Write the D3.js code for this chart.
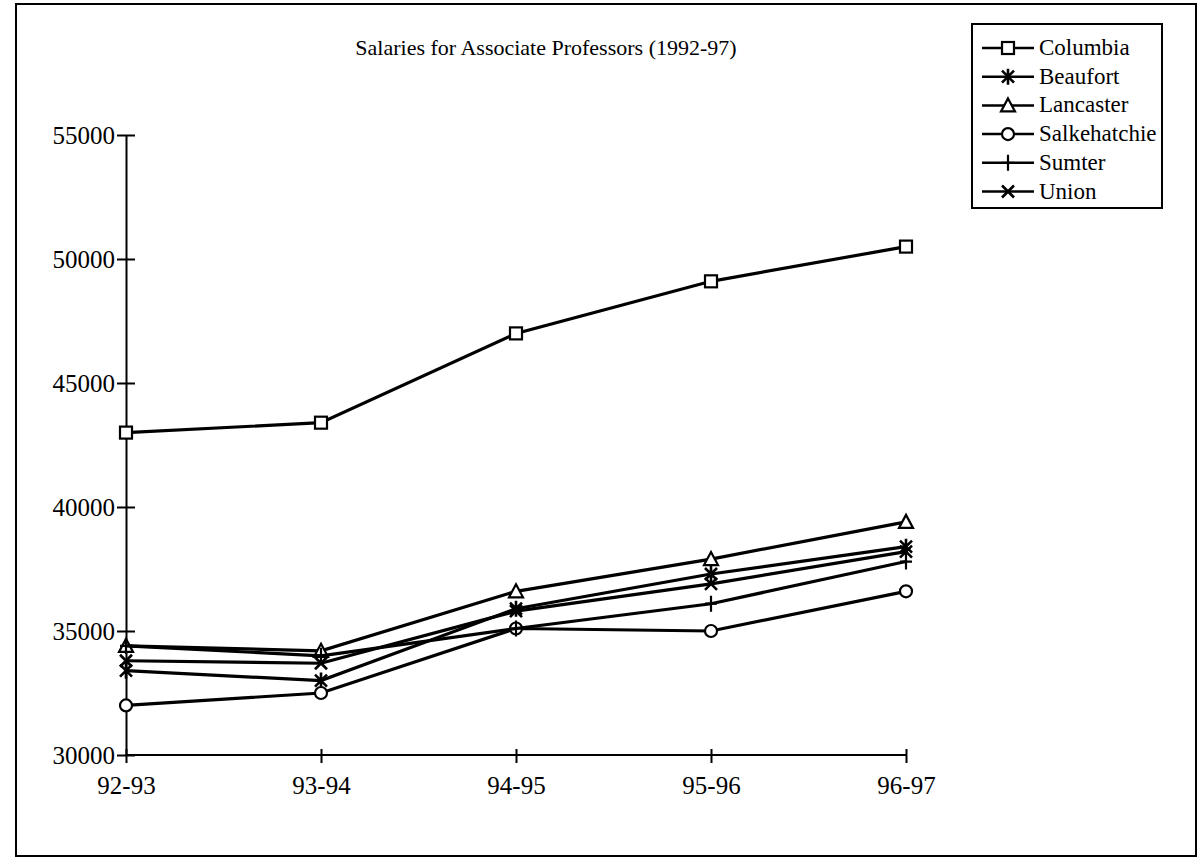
<!DOCTYPE html>
<html lang='en'>
<head>
	<meta charset='utf-8'>
	<script src='https://d3js.org/d3.v7.min.js'></script>
	<style>
		body { margin: 0; background: #fff; }
		svg text { font-family: 'Liberation Serif', 'Times New Roman', Times, 'DejaVu Serif', serif; fill: #000; }
	</style>
</head>
<body>
	<svg id='chart' width='1202' height='863'></svg>
	<script>
		// data
		var years = ['92-93', '93-94', '94-95', '95-96', '96-97'];
		var columbia = [43000, 43400, 47000, 49100, 50500];
		var beaufort = [33400, 33000, 35900, 37300, 38400];
		var lancaster = [34400, 34200, 36600, 37900, 39400];
		var salkehatchie = [32000, 32500, 35100, 35000, 36600];
		var sumter = [34400, 34000, 35100, 36100, 37800];
		var union = [33800, 33700, 35800, 36900, 38200];
		var yTicks = [30000, 35000, 40000, 45000, 50000, 55000];

		var series = [
			{ name: 'Columbia', values: columbia, marker: 'square' },
			{ name: 'Beaufort', values: beaufort, marker: 'asterisk' },
			{ name: 'Lancaster', values: lancaster, marker: 'triangle' },
			{ name: 'Salkehatchie', values: salkehatchie, marker: 'circle' },
			{ name: 'Sumter', values: sumter, marker: 'plus' },
			{ name: 'Union', values: union, marker: 'cross' }
		];

		var serif = "'Liberation Serif', 'Times New Roman', Times, 'DejaVu Serif', serif";
		var svg = d3.select('#chart');

		// outer frame
		svg.append('rect')
			.attr('x', 16).attr('y', 4)
			.attr('width', 1180).attr('height', 852)
			.attr('fill', 'none')
			.attr('stroke', '#000')
			.attr('stroke-width', 2);

		var x = d3.scalePoint()
			.domain(years)
			.range([126, 906]);

		var y = d3.scaleLinear()
			.domain([30000, 55000])
			.range([755, 135]);

		// y axis: ticks cross the axis line
		var yAxis = d3.axisLeft(y)
			.tickValues(yTicks)
			.tickFormat(d3.format('d'))
			.tickSize(9)
			.tickSizeOuter(0);

		var gy = svg.append('g')
			.attr('transform', 'translate(' + x(years[0]) + ',0)')
			.attr('font-family', serif)
			.call(yAxis);
		gy.select('.domain').attr('stroke-width', 2);
		gy.selectAll('.tick line').attr('x2', 9).attr('x1', -9).attr('stroke-width', 2);
		gy.selectAll('.tick text')
			.attr('x', -11)
			.attr('font-size', 25);

		// x axis
		var xAxis = d3.axisBottom(x)
			.tickSize(8)
			.tickSizeOuter(0)
			.tickPadding(13);

		var gx = svg.append('g')
			.attr('transform', 'translate(0,' + y(30000) + ')')
			.attr('font-family', serif)
			.call(xAxis);
		gx.select('.domain').attr('stroke-width', 2).attr('d', 'M' + x(years[0]) + ',0H' + x(years[4]));
		gx.selectAll('.tick line').attr('y1', -6).attr('y2', 8).attr('stroke-width', 2);
		gx.selectAll('.tick text')
			.attr('font-size', 25);

		// title
		svg.append('text')
			.attr('x', 546).attr('y', 55)
			.attr('text-anchor', 'middle')
			.attr('font-family', serif)
			.attr('font-size', 22)
			.text('Salaries for Associate Professors (1992-97)');

		function drawMarker(g, type, cx, cy) {
			var s = 6;
			if (type == 'square') {
				g.append('rect').attr('x', cx - s).attr('y', cy - s)
					.attr('width', 2 * s).attr('height', 2 * s)
					.attr('fill', '#fff').attr('stroke', '#000').attr('stroke-width', 2.2);
			} else if (type == 'circle') {
				g.append('circle').attr('cx', cx).attr('cy', cy).attr('r', s)
					.attr('fill', '#fff').attr('stroke', '#000').attr('stroke-width', 2.2);
			} else if (type == 'triangle') {
				g.append('path')
					.attr('d', 'M' + cx + ',' + (cy - 7) + 'L' + (cx + 7) + ',' + (cy + 6) + 'L' + (cx - 7) + ',' + (cy + 6) + 'Z')
					.attr('fill', '#fff').attr('stroke', '#000').attr('stroke-width', 2.2);
			} else if (type == 'plus') {
				g.append('path')
					.attr('d', 'M' + cx + ',' + (cy - 8) + 'V' + (cy + 8) + 'M' + (cx - 6) + ',' + cy + 'H' + (cx + 6))
					.attr('stroke', '#000').attr('stroke-width', 2.2);
			} else if (type == 'cross') {
				g.append('path')
					.attr('d', 'M' + (cx - 6) + ',' + (cy - 6) + 'L' + (cx + 6) + ',' + (cy + 6) + 'M' + (cx + 6) + ',' + (cy - 6) + 'L' + (cx - 6) + ',' + (cy + 6))
					.attr('stroke', '#000').attr('stroke-width', 2.6);
			} else if (type == 'asterisk') {
				g.append('path')
					.attr('d', 'M' + (cx - 6) + ',' + (cy - 6) + 'L' + (cx + 6) + ',' + (cy + 6) + 'M' + (cx + 6) + ',' + (cy - 6) + 'L' + (cx - 6) + ',' + (cy + 6) +
						'M' + cx + ',' + (cy - 8) + 'V' + (cy + 8))
					.attr('stroke', '#000').attr('stroke-width', 2.6);
			}
		}

		var line = d3.line()
			.x(function(d, i) { return x(years[i]); })
			.y(function(d) { return y(d); });

		series.forEach(function(s) {
			var g = svg.append('g');
			g.append('path')
				.datum(s.values)
				.attr('d', line)
				.attr('fill', 'none')
				.attr('stroke', '#000')
				.attr('stroke-width', 3.2);
			s.values.forEach(function(v, i) {
				drawMarker(g, s.marker, x(years[i]), y(v));
			});
		});

		// legend
		var legend = svg.append('g');
		legend.append('rect')
			.attr('x', 972).attr('y', 24)
			.attr('width', 190).attr('height', 184)
			.attr('fill', '#fff')
			.attr('stroke', '#000')
			.attr('stroke-width', 2);

		series.forEach(function(s, i) {
			var ly = 48 + i * 28.7;
			legend.append('line')
				.attr('x1', 982).attr('x2', 1034)
				.attr('y1', ly).attr('y2', ly)
				.attr('stroke', '#000').attr('stroke-width', 2.5);
			drawMarker(legend, s.marker, 1008, ly);
			legend.append('text')
				.attr('x', 1039).attr('y', ly + 7)
				.attr('font-family', serif)
				.attr('font-size', 23)
				.text(s.name);
		});
	</script>
</body>
</html>
